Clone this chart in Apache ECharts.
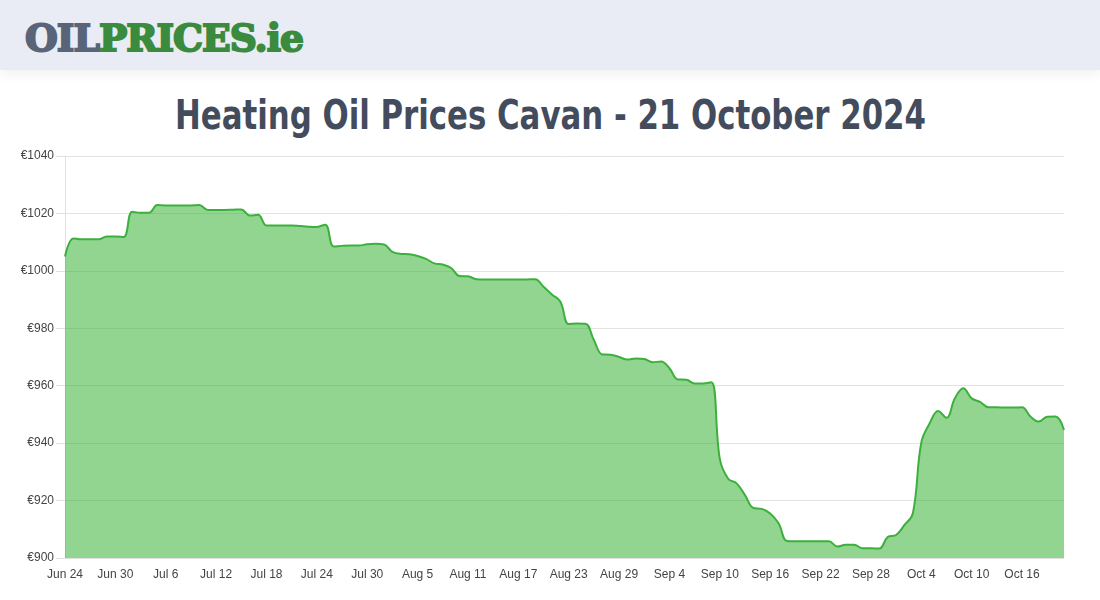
<!DOCTYPE html>
<html>
<head>
<meta charset="utf-8">
<script src="https://cdn.jsdelivr.net/npm/echarts@6/dist/echarts.min.js"></script>
<style>
  html, body { margin: 0; padding: 0; width: 1100px; height: 600px; background: #fff; overflow: hidden; }
  #header { position: absolute; left: 0; top: 0; width: 1100px; height: 70px; background: #e9ecf4;
            box-shadow: 0 4px 12px rgba(0,0,0,0.06); }
  #logo { position: absolute; left: 25px; top: 15px; font-family: "DejaVu Serif", serif; font-weight: bold;
          font-size: 38px; line-height: 46px; white-space: nowrap; transform-origin: 0 0; letter-spacing: -1px; }
  #logo .a { color: #5a6479; -webkit-text-stroke: 2px #5a6479; }
  #logo .b { color: #3a8b3e; -webkit-text-stroke: 2px #3a8b3e; }
  #title { position: absolute; top: 87px; left: 0; white-space: nowrap; font-family: "DejaVu Sans Condensed", "DejaVu Sans", sans-serif;
           font-weight: bold; font-size: 40px; line-height: 56px; color: #434c5d; transform-origin: 0 0; }
  #chart { position: absolute; left: 0; top: 0; width: 1100px; height: 600px; }
</style>
</head>
<body>
<div id="header"><div id="logo"><span class="a">OIL</span><span class="b">PRICES.ie</span></div></div>
<div id="title">Heating Oil Prices Cavan - 21 October 2024</div>
<div id="chart"></div>
<script>
const categories = [
  'Jun 24','Jun 25','Jun 26','Jun 27','Jun 28','Jun 29','Jun 30',
  'Jul 1','Jul 2','Jul 3','Jul 4','Jul 5','Jul 6','Jul 7','Jul 8','Jul 9','Jul 10','Jul 11','Jul 12','Jul 13','Jul 14','Jul 15','Jul 16','Jul 17','Jul 18','Jul 19','Jul 20','Jul 21','Jul 22','Jul 23','Jul 24','Jul 25','Jul 26','Jul 27','Jul 28','Jul 29','Jul 30','Jul 31',
  'Aug 1','Aug 2','Aug 3','Aug 4','Aug 5','Aug 6','Aug 7','Aug 8','Aug 9','Aug 10','Aug 11','Aug 12','Aug 13','Aug 14','Aug 15','Aug 16','Aug 17','Aug 18','Aug 19','Aug 20','Aug 21','Aug 22','Aug 23','Aug 24','Aug 25','Aug 26','Aug 27','Aug 28','Aug 29','Aug 30','Aug 31',
  'Sep 1','Sep 2','Sep 3','Sep 4','Sep 5','Sep 6','Sep 7','Sep 8','Sep 9','Sep 10','Sep 11','Sep 12','Sep 13','Sep 14','Sep 15','Sep 16','Sep 17','Sep 18','Sep 19','Sep 20','Sep 21','Sep 22','Sep 23','Sep 24','Sep 25','Sep 26','Sep 27','Sep 28','Sep 29','Sep 30',
  'Oct 1','Oct 2','Oct 3','Oct 4','Oct 5','Oct 6','Oct 7','Oct 8','Oct 9','Oct 10','Oct 11','Oct 12','Oct 13','Oct 14','Oct 15','Oct 16','Oct 17','Oct 18','Oct 19','Oct 20','Oct 21'
];
const prices = [
  1005, 1011.3, 1011, 1011, 1011, 1012, 1012, 1011.8, 1020.6, 1020.2,
  1020.2, 1022.9, 1022.8, 1022.8, 1022.8, 1022.8, 1022.9, 1021.2, 1021.2, 1021.2,
  1021.3, 1021.4, 1019.3, 1019.5, 1015.8, 1015.8, 1015.8, 1015.8, 1015.6, 1015.4,
  1015.3, 1016.1, 1008.5, 1008.7, 1008.8, 1008.8, 1009.3, 1009.4, 1009.2, 1006.6,
  1005.9, 1005.8, 1005.2, 1004.2, 1002.6, 1002.2, 1001.0, 998.2, 998.1, 997.1,
  997, 997, 997, 997, 997, 997, 997.1, 994.5, 991.8, 989.3,
  981.5, 981.7, 981.6, 975.9, 970.9, 970.8, 970.0, 969.1, 969.5, 969.3,
  968.2, 968.4, 966.1, 962.2, 962.1, 960.8, 960.8, 961.2, 934.5, 927.6,
  926, 921.9, 917.4, 917.1, 915.5, 912.1, 905.9, 905.8, 905.8, 905.8,
  905.8, 905.8, 904, 904.6, 904.6, 903.4, 903.4, 903.3, 907.3, 908,
  911.5, 915.6, 940.2, 946.9, 951.2, 948.8, 955.6, 959.1, 955.6, 954.4,
  952.5, 952.5, 952.4, 952.4, 952.5, 949.3, 947.5, 949.2, 949.3, 944.6
];
const yMin = 900, yMax = 1040, yStep = 20;

// fit title & logo widths
(function(){
  const t = document.getElementById('title');
  const w = t.getBoundingClientRect().width;
  const target = 751;
  t.style.transform = 'scaleX(' + (target / w) + ')';
  t.style.left = (550 - target / 2) + 'px';
  const l = document.getElementById('logo');
  const lw = l.getBoundingClientRect().width;
  l.style.transform = 'scaleX(' + (278 / lw) + ')';
})();

const chart = echarts.init(document.getElementById('chart'), null, { renderer: 'canvas' });
chart.setOption({
  backgroundColor: 'transparent',
  animation: false,
  grid: { left: 65, right: 36, top: 156, bottom: 42, containLabel: false },
  xAxis: {
    type: 'category',
    data: categories,
    boundaryGap: false,
    axisLine: { show: true, lineStyle: { color: '#e0e0e0' } },
    axisTick: { show: false },
    axisLabel: { interval: 5, color: '#444', fontSize: 12, margin: 11, fontFamily: 'Liberation Sans, Arial, sans-serif' },
    splitLine: { show: false }
  },
  yAxis: {
    type: 'value',
    min: yMin, max: yMax, interval: yStep,
    axisLine: { show: true, lineStyle: { color: '#e0e0e0' } },
    axisTick: { show: true, length: 9, lineStyle: { color: '#e0e0e0' } },
    axisLabel: { color: '#444', fontSize: 12, margin: 11, fontFamily: 'Liberation Sans, Arial, sans-serif',
                 formatter: v => '€' + v },
    splitLine: { show: true, lineStyle: { color: '#e3e3e3', width: 1 } }
  },
  series: [{
    type: 'line',
    data: prices,
    smooth: 0.4,
    showSymbol: false,
    lineStyle: { color: '#3cb03c', width: 2 },
    areaStyle: { color: 'rgba(58,180,58,0.56)', opacity: 1 },
    z: 1
  }]
});
</script>
</body>
</html>
